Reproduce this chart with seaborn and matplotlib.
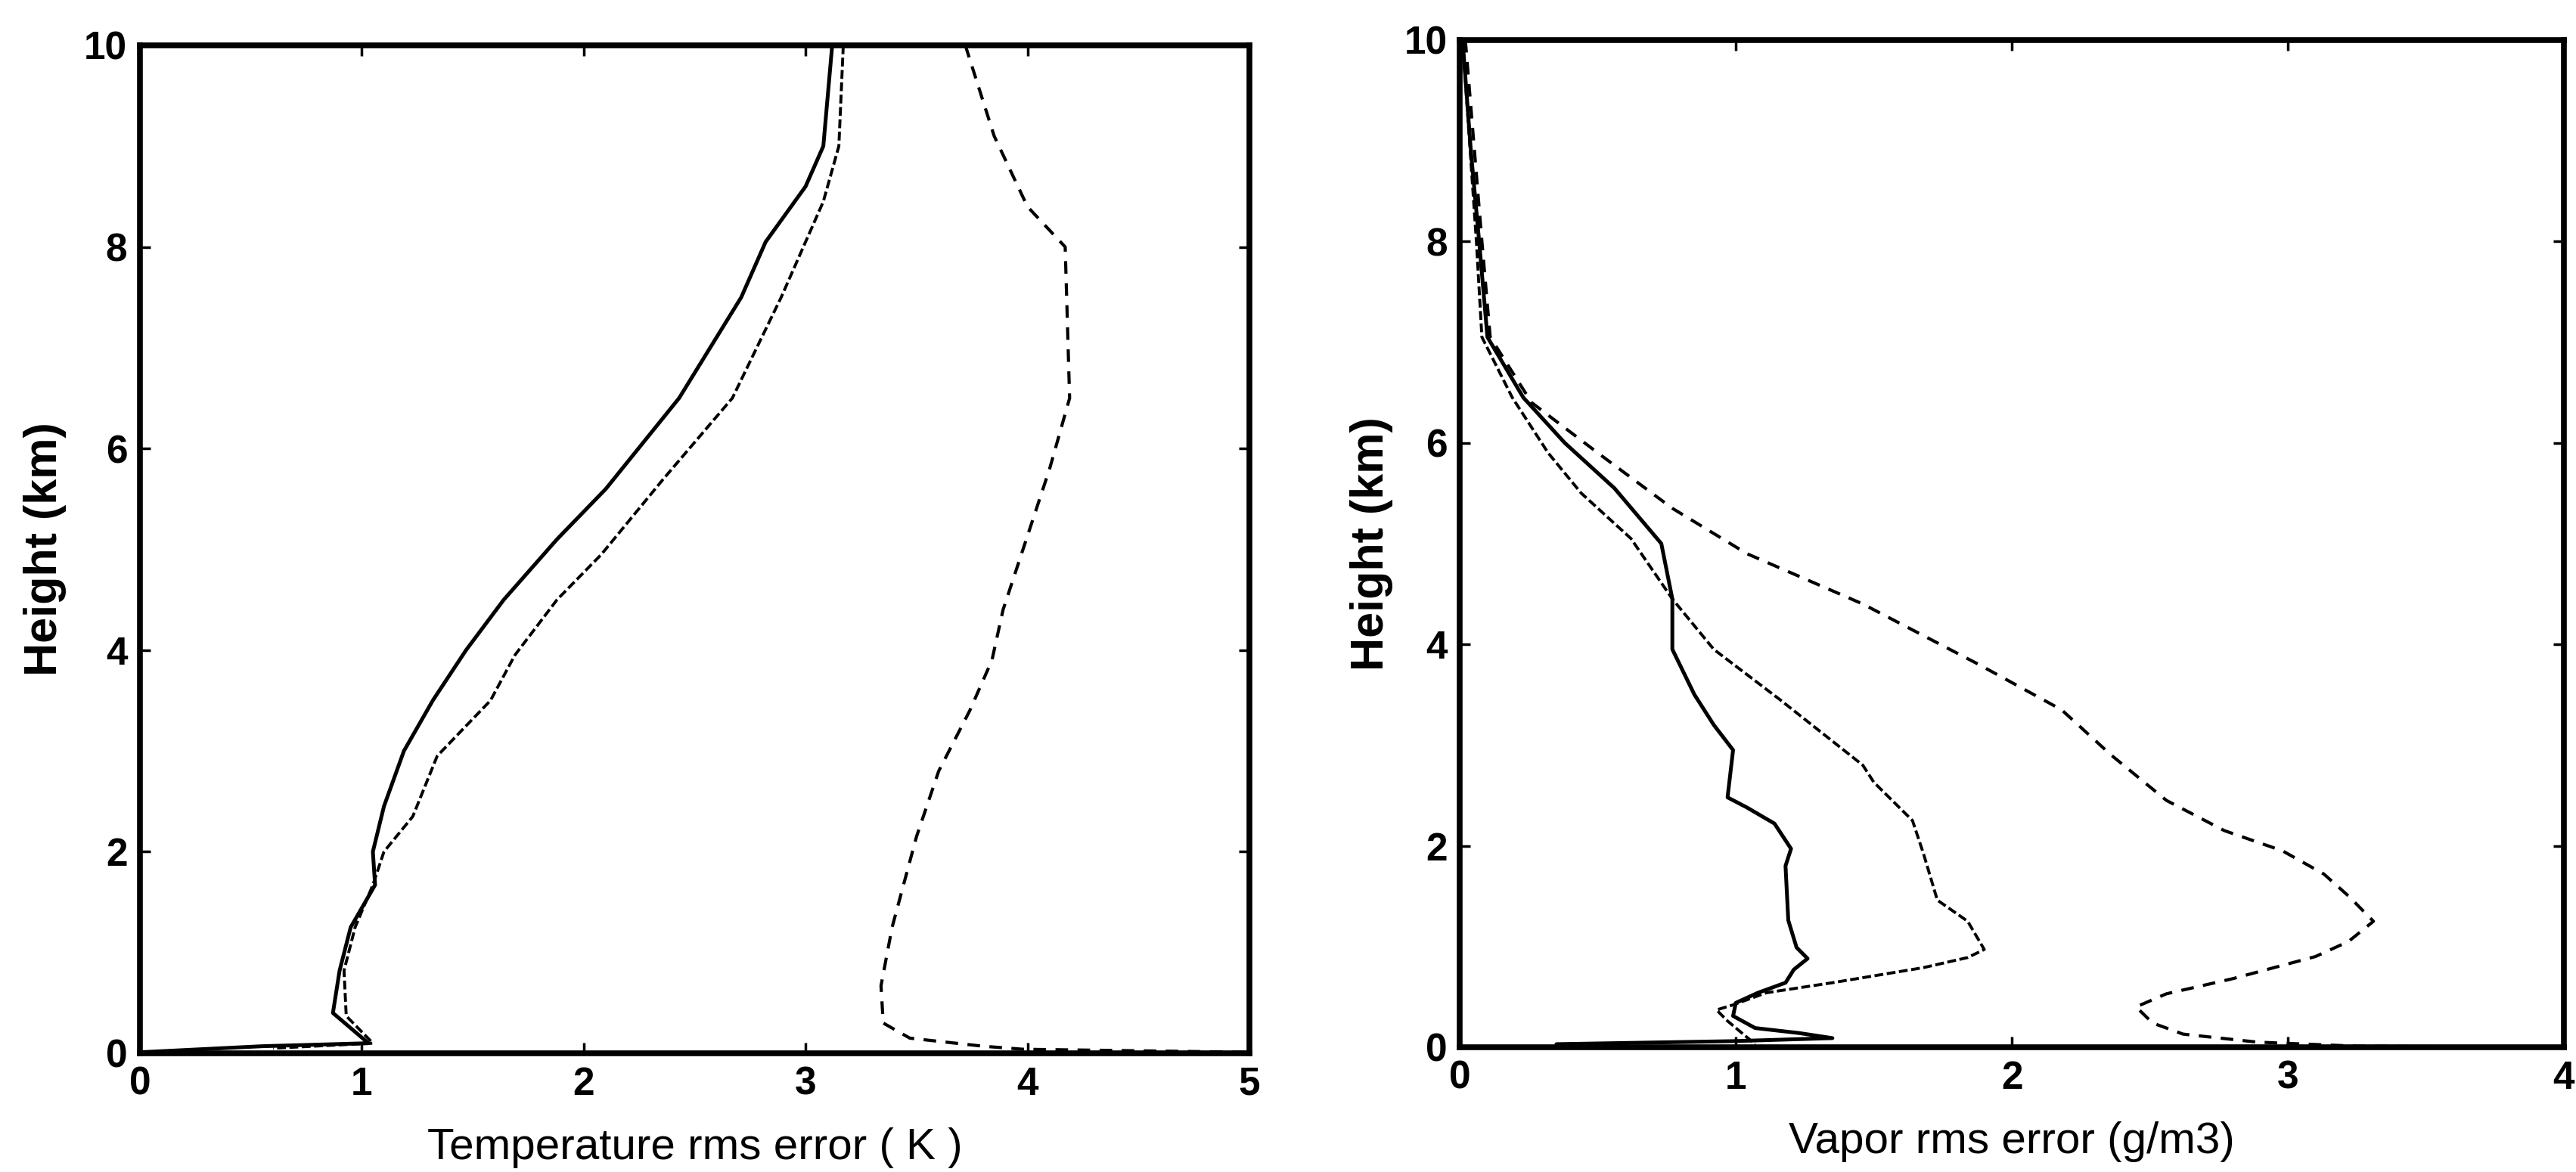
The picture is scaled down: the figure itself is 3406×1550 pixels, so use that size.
import matplotlib
matplotlib.use("Agg")
import matplotlib.pyplot as plt
import seaborn as sns

# --- data ---
# left panel: temperature rms error (K) vs height (km)
t_solid_h = [10, 9.0, 8.6, 8.05, 7.5, 6.5, 5.6, 5.1, 4.5, 4.0, 3.5, 3.0, 2.45, 2.0, 1.67, 1.25, 0.82, 0.4, 0.1, 0.07, 0.01]
t_solid_x = [3.12, 3.08, 3.0, 2.82, 2.71, 2.43, 2.10, 1.88, 1.64, 1.47, 1.32, 1.19, 1.10, 1.05, 1.06, 0.95, 0.90, 0.87, 1.03, 0.55, 0.0]

t_dot_h = [10, 9.0, 8.45, 7.5, 6.5, 5.7, 4.95, 4.5, 3.95, 3.5, 2.95, 2.35, 2.0, 1.67, 1.25, 0.82, 0.37, 0.1, 0.05]
t_dot_x = [3.17, 3.15, 3.08, 2.89, 2.67, 2.36, 2.08, 1.88, 1.69, 1.58, 1.34, 1.23, 1.10, 1.05, 0.97, 0.92, 0.93, 1.05, 0.6]

t_dash_h = [10, 9.1, 8.4, 8.0, 6.5, 5.8, 5.0, 4.4, 3.9, 3.4, 2.8, 2.15, 1.25, 0.67, 0.3, 0.15, 0.07, 0.04, 0.01]
t_dash_x = [3.72, 3.85, 4.0, 4.17, 4.19, 4.10, 3.98, 3.89, 3.84, 3.74, 3.60, 3.50, 3.39, 3.34, 3.35, 3.47, 3.80, 3.98, 5.0]

# right panel: vapor rms error (g/m3) vs height (km)
v_solid_h = [10, 8.9, 8.0, 7.05, 6.45, 6.0, 5.55, 5.0, 4.45, 3.95, 3.5, 3.2, 2.95, 2.48, 2.38, 2.22, 1.97,
             1.8, 1.26, 0.99, 0.88, 0.77, 0.64, 0.54, 0.44, 0.31, 0.19, 0.14, 0.09, 0.06, 0.03]
v_solid_x = [0.01, 0.04, 0.07, 0.10, 0.23, 0.38, 0.56, 0.73, 0.77, 0.77, 0.85, 0.92, 0.99, 0.97, 1.04, 1.14, 1.20,
             1.18, 1.19, 1.22, 1.26, 1.21, 1.18, 1.08, 1.0, 0.99, 1.07, 1.23, 1.35, 0.99, 0.35]

v_dot_h = [10, 8.0, 7.05, 6.45, 5.9, 5.5, 5.05, 4.45, 3.95, 3.45, 2.8, 2.63, 2.25, 1.92, 1.46, 1.25,
           0.97, 0.89, 0.79, 0.64, 0.54, 0.42, 0.37, 0.26, 0.03]
v_dot_x = [0.01, 0.06, 0.08, 0.19, 0.32, 0.44, 0.62, 0.77, 0.92, 1.16, 1.46, 1.50, 1.64, 1.68, 1.73, 1.84,
           1.90, 1.84, 1.68, 1.35, 1.11, 0.99, 0.93, 0.97, 1.07]

v_dash_h = [10, 8.0, 7.05, 6.4, 5.9, 5.35, 4.9, 4.4, 3.8, 3.35, 2.9, 2.45, 2.15, 1.95, 1.72, 1.5, 1.25,
            1.05, 0.9, 0.68, 0.53, 0.4, 0.24, 0.13, 0.05, 0.01, 0.0]
v_dash_x = [0.02, 0.08, 0.11, 0.26, 0.50, 0.77, 1.04, 1.46, 1.88, 2.18, 2.36, 2.56, 2.77, 2.98, 3.13, 3.22, 3.31,
            3.22, 3.10, 2.80, 2.56, 2.45, 2.51, 2.62, 2.89, 3.25, 4.0]

temp_xticks = [0, 1, 2, 3, 4, 5]
vapor_xticks = [0, 1, 2, 3, 4]
height_ticks = [0, 2, 4, 6, 8, 10]

sns.set_theme(style="ticks")
plt.rcParams['font.family'] = ['Liberation Sans', 'DejaVu Sans']

fig = plt.figure(figsize=(34.06, 15.5), dpi=100)
ax1 = fig.add_axes([0.0543, 0.1013, 0.4307, 0.860])
ax2 = fig.add_axes([0.5667, 0.1065, 0.4286, 0.8594])

solid = dict(color='black', lw=3.6, linestyle='-')
dotted = dict(color='black', lw=2.8, linestyle=(0, (3, 1.2)))
dashed = dict(color='black', lw=3.0, linestyle=(0, (4, 3)))


def draw(ax, xs, ys, style):
    sns.lineplot(x=xs, y=ys, sort=False, estimator=None, ax=ax, **style)


draw(ax1, t_solid_x, t_solid_h, solid)
draw(ax1, t_dot_x, t_dot_h, dotted)
draw(ax1, t_dash_x, t_dash_h, dashed)

draw(ax2, v_solid_x, v_solid_h, solid)
draw(ax2, v_dot_x, v_dot_h, dotted)
draw(ax2, v_dash_x, v_dash_h, dashed)

for ax, xt, xmax, xlabel, ylpad in [(ax1, temp_xticks, 5, 'Temperature rms error ( K )', 17),
                                     (ax2, vapor_xticks, 4, 'Vapor rms error (g/m3)', 10)]:
    ax.set_xlim(0, xmax)
    ax.set_ylim(0, 10)
    ax.set_xticks(xt, [str(v) for v in xt], fontweight='bold')
    ax.set_yticks(height_ticks, [str(v) for v in height_ticks], fontweight='bold')
    ax.tick_params(direction='in', length=10, width=2.5, top=True, right=True,
                   labelsize=37, pad=12, colors='black')
    for sp in ax.spines.values():
        sp.set_linewidth(5.5)
        sp.set_color('black')
        sp.set_visible(True)
    ax.set_xlabel(xlabel, fontsize=42, labelpad=23, color='black')
    ax.set_ylabel('Height (km)', fontsize=44, fontweight='bold', labelpad=ylpad, color='black')
    ax.set_facecolor('white')

fig.savefig('out.png', dpi=100, facecolor='white')
